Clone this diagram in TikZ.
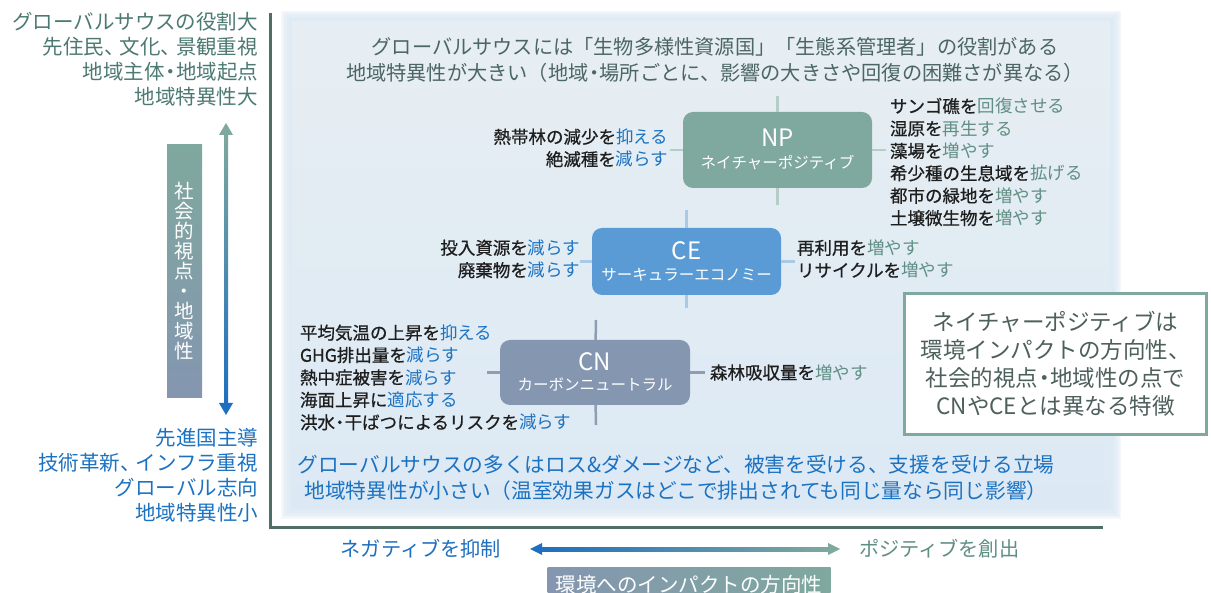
\documentclass[tikz,border=0pt]{standalone}
\usepackage{fontspec}
\newfontfamily\jp{Noto Sans CJK JP}
\newfontfamily\jpb[FakeBold=0.7]{Noto Sans CJK JP}
\usetikzlibrary{calc}
\definecolor{sage}{HTML}{7FA89E}
\definecolor{cebl}{HTML}{5B9BD5}
\definecolor{cngr}{HTML}{8496B0}
\definecolor{tblue}{HTML}{1B72C2}
\definecolor{tgreen}{HTML}{5F8F83}
\definecolor{axisc}{HTML}{4E6E67}
\definecolor{toptxt}{HTML}{4B6663}
\definecolor{lefttop}{HTML}{4C7A72}
\definecolor{boxtxt}{HTML}{4E605C}
\definecolor{bgblue}{HTML}{DCE9F4}
\definecolor{bgtop}{HTML}{E7EEF3}
\definecolor{npline}{HTML}{B5CDC7}
\definecolor{celine}{HTML}{A9C9E9}
\definecolor{cnline}{HTML}{8F9DB2}
\definecolor{txtblack}{HTML}{1E1E1E}
\definecolor{hblue}{HTML}{1E6FBF}
\newcommand\hlB[1]{{\jp\textcolor{tblue}{#1}}}
\newcommand\hlG[1]{{\jp\textcolor{tgreen}{#1}}}
\newcommand\tcomma{\makebox[0.75em][l]{、}}
\newcommand\tdot{\makebox[0.55em][c]{・}}
\begin{document}
\begin{tikzpicture}[x=1pt,y=-1pt,font=\jp,
  txt/.style={inner sep=0pt,outer sep=0pt},
  lst/.style={txt,font={\jpb\fontsize{17.5}{22.4}\selectfont},text=txtblack},
  big/.style={txt,font={\jp\fontsize{20.2}{26}\selectfont}},
  side/.style={txt,font={\jp\fontsize{20.5}{25}\selectfont}},
  catbox/.style={rounded corners=10pt,inner sep=0pt,outer sep=0pt},
  ttl/.style={txt,text=white,font={\jp\fontsize{24}{24}\selectfont}},
  subt/.style={txt,text=white,font={\jp\fontsize{15.5}{16}\selectfont}},
  crs/.style={line width=2.5pt},
  axisline/.style={line width=3pt,draw=axisc},
  rbox/.style={draw=sage,line width=3pt,fill=white,inner sep=0pt,minimum width=302pt,minimum height=141pt,align=center,text=boxtxt,font={\jp\fontsize{22.5}{28}\selectfont}}]
\useasboundingbox (0,0) rectangle (1211,593);
\fill[white] (0,0) rectangle (1211,593);
% soft light-blue background
\foreach \d in {0,1.5,...,9}{
  \fill[bgblue,opacity=0.28] ({281+\d},{11+\d}) rectangle ({1121-\d},{519-\d});
}
\shade[top color=bgtop,bottom color=bgblue] (292,22) rectangle (1110,508);
% axes
\draw[axisline] (270,13) -- (270,528) -- (1103,528);
% top and bottom texts of the field
\node[big,text=toptxt,align=center] (toptext) at (715,60)
  {グローバルサウスには「生物多様性資源国」「生態系管理者」の役割がある\\
   地域特異性が大きい（地域\tdot 場所ごとに、影響の大きさや回復の困難さが異なる）};
\node[big,font={\jp\fontsize{20.7}{26}\selectfont},text=tblue,align=center] (bottext) at (676,478)
  {グローバルサウスの多くはロス\&ダメージなど、被害を受ける、支援を受ける立場\\
   地域特異性が小さい（温室効果ガスはどこで排出されても同じ量なら同じ影響）};
% left texts
\node[side,text=lefttop,align=right,anchor=east] (lefttoptext) at (258,59.5)
  {グローバルサウスの役割大\\先住民\tcomma 文化\tcomma 景観重視\\地域主体\tdot 地域起点\\地域特異性大};
\node[side,text=tblue,align=right,anchor=east] (leftbottext) at (258,475)
  {先進国主導\\技術革新\tcomma インフラ重視\\グローバル志向\\地域特異性小};
% vertical bar
\node[txt,minimum width=35pt,minimum height=253pt,top color=sage,middle color=cebl,bottom color=cngr,
  text=white,align=center,font={\jp\fontsize{19.5}{20}\selectfont}] (vbar) at (184.5,271.5)
  {社\\会\\的\\視\\点\\・\\地\\域\\性};
% vertical arrow
\coordinate (va1) at (226,123);
\coordinate (va2) at (226,415);
\shade[top color=sage,bottom color=hblue] ($(va1)+(-2,10)$) rectangle ($(va2)+(2,-10)$);
\fill[sage] (va1) -- ++(-7,12) -- ++(14,0) -- cycle;
\fill[hblue] (va2) -- ++(-7,-12) -- ++(14,0) -- cycle;
% horizontal arrow
\coordinate (ha1) at (530,549);
\coordinate (ha2) at (840,549);
\shade[left color=hblue,middle color=cebl!80!white,right color=sage] ($(ha1)+(10,-2)$) rectangle ($(ha2)+(-10,2)$);
\fill[hblue] (ha1) -- ++(12,-6) -- ++(0,12) -- cycle;
\fill[sage] (ha2) -- ++(-12,-6) -- ++(0,12) -- cycle;
\node[big,text=hblue,anchor=east] (negtext) at (501,549) {ネガティブを抑制};
\node[big,text=tgreen,anchor=west] (postext) at (859,549) {ポジティブを創出};
\node[txt,minimum width=283pt,minimum height=36pt,left color=cngr,middle color=cebl,right color=sage,
  text=white,font={\jp\fontsize{20.5}{20}\selectfont}] (impact) at (689,585) {環境へのインパクトの方向性};
% NP
\coordinate (npN) at (777.5,96);
\coordinate (npS) at (777.5,205);
\coordinate (npW) at (670,150);
\coordinate (npE) at (886,150);
\node[catbox,fill=sage,minimum width=189pt,minimum height=76pt] (np) at (777.5,150) {};
\draw[crs,npline] (np) -- (npN);
\draw[crs,npline] (np) -- (npS);
\draw[crs,npline] (np) -- (npW);
\draw[crs,npline] (np) -- (npE);
\node[ttl] (npt) at ($(np.center)+(0,-12)$) {NP};
\node[subt] (nps) at ($(np.center)+(0,13)$) {ネイチャーポジティブ};
\node[lst,align=right,anchor=east] (npl) at (668,148)
  {熱帯林の減少を\hlB{抑える}\\絶滅種を\hlB{減らす}};
\node[lst,align=left,anchor=west] (npr) at (890,162)
  {サンゴ礁を\hlG{回復させる}\\湿原を\hlG{再生する}\\藻場を\hlG{増やす}\\希少種の生息域を\hlG{拡げる}\\都市の緑地を\hlG{増やす}\\土壌微生物を\hlG{増やす}};
% CE
\coordinate (ceN) at (686.5,210);
\coordinate (ceS) at (686.5,308);
\coordinate (ceW) at (580,261.5);
\coordinate (ceE) at (795,261.5);
\node[catbox,fill=cebl,minimum width=189pt,minimum height=67pt] (ce) at (686.5,261.5) {};
\draw[crs,celine] (ce) -- (ceN);
\draw[crs,celine] (ce) -- (ceS);
\draw[crs,celine] (ce) -- (ceW);
\draw[crs,celine] (ce) -- (ceE);
\node[ttl] (cet) at ($(ce.center)+(0,-11)$) {CE};
\node[subt] (ces) at ($(ce.center)+(0,13)$) {サーキュラーエコノミー};
\node[lst,align=right,anchor=east] (cel) at (580,259)
  {投入資源を\hlB{減らす}\\廃棄物を\hlB{減らす}};
\node[lst,align=left,anchor=west] (cer) at (797,259)
  {再利用を\hlG{増やす}\\リサイクルを\hlG{増やす}};
% CN
\coordinate (cnN) at (596,320);
\coordinate (cnS) at (596,425);
\coordinate (cnW) at (487,372.5);
\coordinate (cnE) at (705,372.5);
\node[catbox,fill=cngr,minimum width=190pt,minimum height=65pt] (cn) at (595,372.5) {};
\draw[crs,cnline] (cn) -- (cnN);
\draw[crs,cnline] (cn) -- (cnS);
\draw[crs,cnline] (cn) -- (cnW);
\draw[crs,cnline] (cn) -- (cnE);
\node[ttl] (cnt) at ($(cn.center)+(0,-11)$) {CN};
\node[subt] (cns) at ($(cn.center)+(0,12)$) {カーボンニュートラル};
\node[lst,align=left,anchor=west] (cnl) at (300,377.5)
  {平均気温の上昇を\hlB{抑える}\\GHG排出量を\hlB{減らす}\\熱中症被害を\hlB{減らす}\\海面上昇に\hlB{適応する}\\洪水\tdot 干ばつによるリスクを\hlB{減らす}};
\node[lst,anchor=west] (cnr) at (710,372.5) {森林吸収量を\hlG{増やす}};
% right box
\node[rbox] (rb) at (1055.5,364)
  {ネイチャーポジティブは\\環境インパクトの方向性、\\社会的視点\tdot 地域性の点で\\CNやCEとは異なる特徴};
\end{tikzpicture}
\end{document}
